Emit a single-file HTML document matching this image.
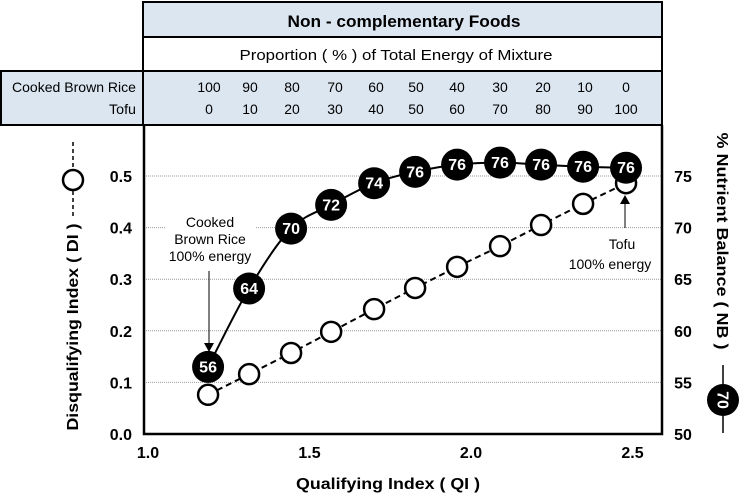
<!DOCTYPE html>
<html><head><meta charset="utf-8"><style>
html,body{margin:0;padding:0;background:#fff;}
svg{display:block;font-family:"Liberation Sans",Arial,sans-serif;}
</style></head><body>
<svg id="chart" width="741" height="493" viewBox="0 0 741 493" xmlns="http://www.w3.org/2000/svg">
  <g>
    <rect x="143" y="2" width="519" height="35" fill="#dce6f1" stroke="#000" stroke-width="2"/>
    <text x="404" y="27" text-anchor="middle" font-size="17" font-weight="bold" textLength="233" lengthAdjust="spacingAndGlyphs">Non - complementary  Foods</text>
    <rect x="143" y="37" width="519" height="34" fill="#fff" stroke="#000" stroke-width="2"/>
    <text x="396" y="60" text-anchor="middle" font-size="15" textLength="313" lengthAdjust="spacingAndGlyphs">Proportion  ( % )  of  Total  Energy  of  Mixture</text>
    <rect x="1" y="71" width="661" height="54" fill="#dce6f1" stroke="#000" stroke-width="2"/>
    <line x1="143" y1="71" x2="143" y2="125" stroke="#000" stroke-width="2"/>
    <text x="136" y="92" text-anchor="end" font-size="14" textLength="124" lengthAdjust="spacingAndGlyphs">Cooked Brown Rice</text>
    <text x="136" y="114" text-anchor="end" font-size="14" textLength="27" lengthAdjust="spacingAndGlyphs">Tofu</text>
    <g id="cols"></g>
  </g>
  <g id="plot"></g>
</svg>
<script>
const riceProp=[100,90,80,70,60,50,40,30,20,10,0];
const tofuProp=[0,10,20,30,40,50,60,70,80,90,100];
const qi=[1.186,1.313,1.443,1.567,1.700,1.827,1.957,2.090,2.217,2.347,2.480];
const di=[0.076,0.116,0.157,0.198,0.242,0.283,0.324,0.364,0.405,0.446,0.486];
const nb=[56.5,64.1,69.9,72.2,74.3,75.4,76.1,76.3,76.1,75.9,75.8];
const nbLabels=["56","64","70","72","74","76","76","76","76","76","76"];
const xTicks=[1.0,1.5,2.0,2.5];
const yTicks=[0.0,0.1,0.2,0.3,0.4,0.5];
const y2Ticks=[50,55,60,65,70,75];

const NS="http://www.w3.org/2000/svg";
const colX=[209,250,292,335,376,416,457,500,543,585,626];
function X(v){return 148+(v-1)*323;}
function Y(v){return 434-v*516;}
function Y2(v){return Y((v-50)/50);}
function mk(parent,tag,attrs,text){const e=document.createElementNS(NS,tag);for(const k in attrs)e.setAttribute(k,attrs[k]);if(text!==undefined)e.textContent=text;parent.appendChild(e);return e;}
const cols=document.getElementById('cols');
riceProp.forEach((v,i)=>{
  const t=mk(cols,'text',{x:colX[i],y:92,'text-anchor':'middle','font-size':14},v);
  
  
  const u=mk(cols,'text',{x:colX[i],y:114,'text-anchor':'middle','font-size':14},tofuProp[i]);
  
  
});
const p=document.getElementById('plot');
yTicks.forEach(v=>{
  if(v>0){const g=mk(p,'line',{x1:144,x2:662,y1:Y(v),y2:Y(v),stroke:'#999','stroke-width':1,'stroke-dasharray':'1,1'});
  
  }
  const t=mk(p,'text',{x:132,y:Y(v)+6,'text-anchor':'end','font-size':16,'font-weight':'bold'},v.toFixed(1));
  
  
});
y2Ticks.forEach(v=>{
  const t=mk(p,'text',{x:683,y:Y2(v)+6,'text-anchor':'middle','font-size':16,'font-weight':'bold'},v);
  
  
});
xTicks.forEach(v=>{
  const t=mk(p,'text',{x:X(v),y:458,'text-anchor':'middle','font-size':16,'font-weight':'bold'},v.toFixed(1));
  
  
});
const frame=mk(p,'path',{d:'M144 125 V434 H662 V125',fill:'none',stroke:'#000','stroke-width':2.5});


// annotations
const a1=mk(p,'g',{});


mk(a1,'rect',{x:165,y:208,width:90,height:54,fill:'#fff'});
['Cooked','Brown Rice','100% energy'].forEach((s,i)=>mk(a1,'text',{x:210,y:227+i*17,'text-anchor':'middle','font-size':14},s));
mk(a1,'line',{x1:209,y1:271,x2:209,y2:345,stroke:'#000','stroke-width':1});
mk(a1,'path',{d:'M204 343 L209 352 L214 343 Z',fill:'#000'});
const a2=mk(p,'g',{});


mk(a2,'rect',{x:566,y:230,width:92,height:40,fill:'#fff'});
mk(a2,'text',{x:622,y:249,'text-anchor':'middle','font-size':14},'Tofu');
mk(a2,'text',{x:610,y:269,'text-anchor':'middle','font-size':14},'100% energy');
mk(a2,'line',{x1:625,y1:228,x2:625,y2:202,stroke:'#000','stroke-width':1});
mk(a2,'path',{d:'M620 204 L625 195 L630 204 Z',fill:'#000'});
// DI line
let d='';qi.forEach((q,i)=>{d+=(i?'L':'M')+X(q)+' '+Y(di[i])+' ';});
const dl=mk(p,'path',{d:d,fill:'none',stroke:'#000','stroke-width':2,'stroke-dasharray':'6,4'});


qi.forEach((q,i)=>{
  const c=mk(p,'circle',{cx:X(q),cy:Y(di[i]),r:10,fill:'#fff',stroke:'#000','stroke-width':2.5});
  
  
});
// NB smooth line (Catmull-Rom)
const P=qi.map((q,i)=>[X(q),Y2(nb[i])]);
let d2='M'+P[0][0]+' '+P[0][1];
for(let i=0;i<P.length-1;i++){
  const p0=P[Math.max(0,i-1)],p1=P[i],p2=P[i+1],p3=P[Math.min(P.length-1,i+2)];
  const c1=[p1[0]+(p2[0]-p0[0])/6,p1[1]+(p2[1]-p0[1])/6];
  const c2=[p2[0]-(p3[0]-p1[0])/6,p2[1]-(p3[1]-p1[1])/6];
  d2+=' C'+c1[0]+' '+c1[1]+' '+c2[0]+' '+c2[1]+' '+p2[0]+' '+p2[1];
}
const nl=mk(p,'path',{d:d2,fill:'none',stroke:'#000','stroke-width':2,'stroke-linejoin':'round'});


qi.forEach((q,i)=>{
  const c=mk(p,'circle',{cx:X(q),cy:Y2(nb[i]),r:16,fill:'#000'});
  
  
  const t=mk(p,'text',{x:X(q),y:Y2(nb[i])+5.5,'text-anchor':'middle','font-size':16,'font-weight':'bold',fill:'#fff'},nbLabels[i]);
  
  
});
// axis titles
const xt=mk(p,'text',{x:388,y:489,'text-anchor':'middle','font-size':16,'font-weight':'bold',textLength:184,lengthAdjust:'spacingAndGlyphs'},'Qualifying  Index  ( QI )');


const yt=mk(p,'text',{x:0,y:0,'text-anchor':'middle','font-size':16,'font-weight':'bold',textLength:207,lengthAdjust:'spacingAndGlyphs',transform:'translate(78,327) rotate(-90)'},'Disqualifying  Index  ( DI )');


const lg1=mk(p,'g',{});


mk(lg1,'line',{x1:73,y1:142,x2:73,y2:218,stroke:'#000','stroke-width':1.5,'stroke-dasharray':'4,3'});
mk(lg1,'circle',{cx:73,cy:180,r:10,fill:'#fff',stroke:'#000','stroke-width':2.5});
const y2t=mk(p,'text',{x:0,y:0,'text-anchor':'middle','font-size':16,'font-weight':'bold',textLength:217,lengthAdjust:'spacingAndGlyphs',transform:'translate(717,241) rotate(90)'},'% Nutrient  Balance  ( NB )');


const lg2=mk(p,'g',{});


mk(lg2,'line',{x1:723,y1:365,x2:723,y2:433,stroke:'#000','stroke-width':1.5});
mk(lg2,'circle',{cx:723,cy:400,r:16,fill:'#000'});
mk(lg2,'text',{x:0,y:0,'text-anchor':'middle','font-size':16,'font-weight':'bold',fill:'#fff',transform:'translate(717.5,400) rotate(90)'},'70');
</script>
</body></html>
